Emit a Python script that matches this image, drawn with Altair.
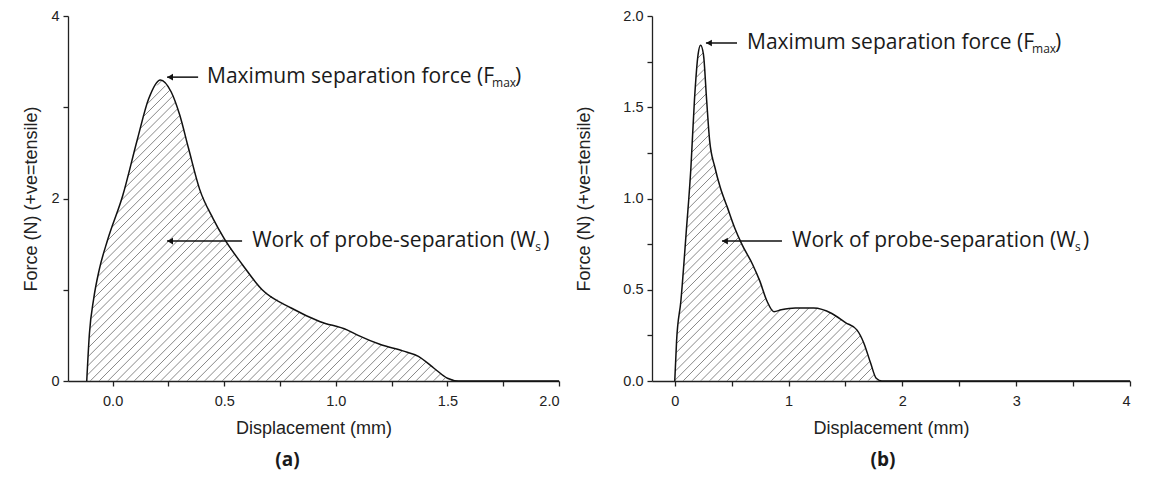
import altair as alt
import numpy as np
import pandas as pd

# ---------------- data ----------------
# panel (a)
disp_a = [-0.116, -0.104, -0.085, -0.06, -0.022, 0.045, 0.111, 0.161, 0.214, 0.262,
          0.30, 0.34, 0.39, 0.45, 0.50, 0.58, 0.67, 0.80, 0.93, 1.05, 1.10, 1.20,
          1.30, 1.37, 1.44, 1.50, 1.55, 2.0]
force_a = [0.0, 0.52, 0.90, 1.22, 1.55, 2.03, 2.65, 3.09, 3.30, 3.17,
           2.92, 2.55, 2.10, 1.78, 1.56, 1.28, 1.00, 0.80, 0.65, 0.56, 0.50, 0.40,
           0.33, 0.27, 0.14, 0.03, 0.0, 0.0]

# panel (b)
disp_b = [0.0, 0.016, 0.054, 0.10, 0.142, 0.173, 0.205, 0.227, 0.252, 0.28, 0.306,
          0.353, 0.40, 0.463, 0.526, 0.589, 0.683, 0.746, 0.809, 0.872, 0.935, 1.06,
          1.22, 1.38, 1.50, 1.60, 1.66, 1.72, 1.77, 1.82, 4.0]
force_b = [0.0, 0.22, 0.44, 0.81, 1.17, 1.54, 1.79, 1.84, 1.79, 1.54, 1.32,
           1.17, 1.06, 0.95, 0.84, 0.75, 0.64, 0.55, 0.44, 0.38, 0.39, 0.40,
           0.40, 0.37, 0.32, 0.28, 0.21, 0.10, 0.015, 0.0, 0.0]

x_ticks_a = [0, 0.25, 0.5, 0.75, 1.0, 1.25, 1.5, 1.75, 2.0]
y_ticks_a = [0, 1, 2, 3, 4]
x_ticks_b = [0, 0.5, 1, 1.5, 2, 2.5, 3, 3.5, 4]
y_ticks_b = [0, 0.25, 0.5, 0.75, 1.0, 1.25, 1.5, 1.75, 2.0]

x_title = "Displacement (mm)"
y_title = "Force (N) (+ve=tensile)"
lab_fmax, sub_fmax = "Maximum separation force (F", "max"
lab_ws, sub_ws = "Work of probe-separation (W", "s"

# annotation anchors: arrow head, arrow tail, text start (displacement) and height (force)
ann_a = {"fmax": (0.244, 0.383, 0.423, 3.33), "ws": (0.244, 0.58, 0.625, 1.534)}
ann_b = {"fmax": (0.274, 0.547, 0.635, 1.852), "ws": (0.415, 0.942, 1.03, 0.767)}

# ---------------- layout / style ----------------
W_A, W_B, H = 491, 478, 365
XD_A, YD_A = [-0.2, 2.0], [0, 4]
XD_B, YD_B = [-0.2, 4.0], [0, 2]

TXT = "#1a1a1a"
ANN_FONT = "Open Sans"
ANN_SIZE = 21
SUB_SIZE = 12
# pixel offsets of subscript and closing bracket after the main text
OFFS = {"fmax": (285, 308), "ws": (283, 291)}


def hatch_segments(xs, fs, xdom, ydom, W, Hh, spacing=8.8):
    """Diagonal 45-degree hatch lines clipped to the area under the curve."""
    xs = np.asarray(xs, float)
    fs = np.asarray(fs, float)
    pxc = (xs - xdom[0]) / (xdom[1] - xdom[0]) * W
    pyc = (fs - ydom[0]) / (ydom[1] - ydom[0]) * Hh
    grid = np.arange(0, W, 0.2)
    f = np.interp(grid, pxc, pyc, left=0, right=0)
    rows = []
    for c in np.arange(-Hh, W, spacing):
        py = grid - c
        inside = (py >= 0) & (py <= f)
        if not inside.any():
            continue
        d = np.diff(np.concatenate([[0], inside.astype(int), [0]]))
        starts = np.where(d == 1)[0]
        ends = np.where(d == -1)[0] - 1
        for i, j in zip(starts, ends):
            if grid[j] - grid[i] < 1.0:
                continue
            rows.append({
                "x": xdom[0] + grid[i] / W * (xdom[1] - xdom[0]),
                "y": ydom[0] + py[i] / Hh * (ydom[1] - ydom[0]),
                "x2": xdom[0] + grid[j] / W * (xdom[1] - xdom[0]),
                "y2": ydom[0] + py[j] / Hh * (ydom[1] - ydom[0]),
            })
    return pd.DataFrame(rows)


def annotation(key, label, sub, anchors):
    head, tail, tx, ay = anchors
    df = pd.DataFrame({"head": [head], "tail": [tail], "tx": [tx], "ay": [ay],
                       "label": [label], "sub": [sub], "close": [")"]})
    base = alt.Chart(df)
    d1, d2 = OFFS[key]
    arrow = base.mark_rule(color="#111", strokeWidth=1.5).encode(
        x="tail:Q", x2="head:Q", y="ay:Q")
    head_m = base.mark_point(shape="triangle-left", filled=True, color="#111",
                             size=45, opacity=1, xOffset=3).encode(
        x="head:Q", y="ay:Q")
    main = base.mark_text(align="left", baseline="middle", font=ANN_FONT,
                          fontSize=ANN_SIZE, color=TXT).encode(
        x="tx:Q", y="ay:Q", text="label:N")
    subm = base.mark_text(align="left", baseline="middle", font=ANN_FONT,
                          fontSize=SUB_SIZE, color=TXT, dx=d1, dy=6).encode(
        x="tx:Q", y="ay:Q", text="sub:N")
    close = base.mark_text(align="left", baseline="middle", font=ANN_FONT,
                           fontSize=ANN_SIZE, color=TXT, dx=d2).encode(
        x="tx:Q", y="ay:Q", text="close:N")
    return [arrow, head_m, main, subm, close]


def make_panel(xs, fs, xdom, ydom, W, xticks, yticks, xlabel_expr, ylabel_expr,
               ann, tag, tag_dx, ytitle_pad):
    xscale = alt.Scale(domain=xdom, nice=False, zero=False)
    yscale = alt.Scale(domain=ydom, nice=False, zero=False)
    xaxis = alt.Axis(values=xticks, labelExpr=xlabel_expr, title=x_title,
                     titlePadding=12, labelPadding=8)
    yaxis = alt.Axis(values=yticks, labelExpr=ylabel_expr, title=y_title,
                     titlePadding=ytitle_pad)

    hdf = hatch_segments(xs, fs, xdom, ydom, W, H)
    hatch = alt.Chart(hdf).mark_rule(color="#6a6a6a", strokeWidth=0.8).encode(
        x=alt.X("x:Q", scale=xscale, axis=xaxis),
        y=alt.Y("y:Q", scale=yscale, axis=yaxis),
        x2="x2:Q", y2="y2:Q",
    )
    cdf = pd.DataFrame({"d": xs, "f": fs})
    curve = alt.Chart(cdf).mark_line(color="#111", strokeWidth=1.5,
                                     interpolate="monotone").encode(
        x=alt.X("d:Q", scale=xscale), y=alt.Y("f:Q", scale=yscale))

    layers = [hatch, curve]
    layers += annotation("fmax", lab_fmax, sub_fmax, ann["fmax"])
    layers += annotation("ws", lab_ws, sub_ws, ann["ws"])

    return alt.layer(*layers).properties(
        width=W, height=H,
        title=alt.TitleParams(tag, orient="bottom", anchor="middle", dx=tag_dx,
                              font=ANN_FONT, fontSize=19, fontWeight="bold",
                              color=TXT, offset=13),
    )


lab_a_x = "abs(datum.value*2 - round(datum.value*2)) < 0.001 ? format(datum.value, '.1f') : ''"
lab_a_y = "datum.value % 2 == 0 ? format(datum.value, 'd') : ''"
lab_b_x = "abs(datum.value - round(datum.value)) < 0.001 ? format(datum.value, 'd') : ''"
lab_b_y = "abs(datum.value*2 - round(datum.value*2)) < 0.001 ? format(datum.value, '.1f') : ''"

pa = make_panel(disp_a, force_a, XD_A, YD_A, W_A, x_ticks_a, y_ticks_a,
                lab_a_x, lab_a_y, ann_a, "(a)", -26, 10)
pb = make_panel(disp_b, force_b, XD_B, YD_B, W_B, x_ticks_b, y_ticks_b,
                lab_b_x, lab_b_y, ann_b, "(b)", -8, 29)

chart = alt.hconcat(pa, pb, spacing=13).properties(
    padding={"left": 22, "top": 8, "right": 5, "bottom": 5},
    background="white",
).configure_view(stroke=None).configure_axis(
    grid=False, domainColor="#222", tickColor="#222", labelColor="#222",
    titleColor="#222", labelFont="Liberation Sans", titleFont="Liberation Sans",
    labelFontSize=14.5, titleFontSize=18, titleFontWeight="normal",
    tickSize=5, domainWidth=1.3, tickWidth=1.3, labelPadding=4,
)

chart.save("out.html", embed_options={"renderer": "svg", "actions": False})
